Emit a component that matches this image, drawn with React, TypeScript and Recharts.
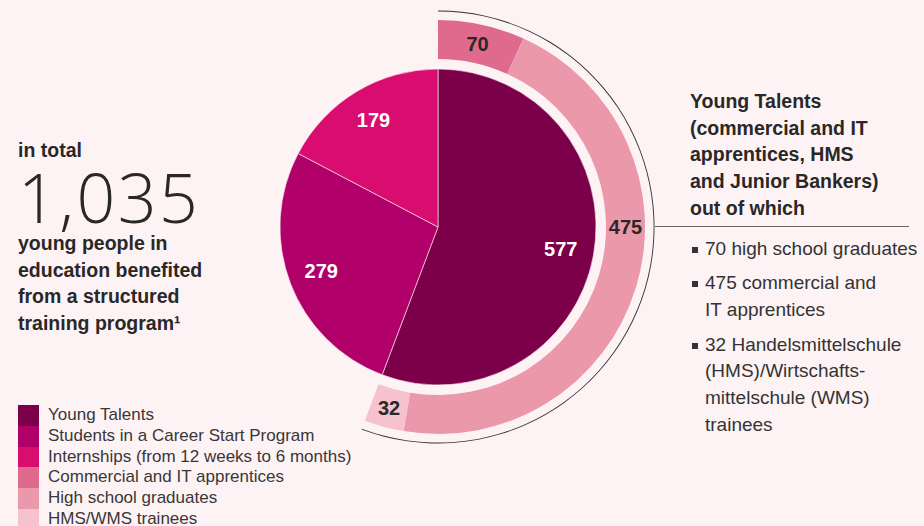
import { PieChart, Pie, Cell, Legend } from "recharts";

// inner pie: all young people in education
const programNames = [
  "Young Talents",
  "Students in a Career Start Program",
  "Internships (from 12 weeks to 6 months)",
];
const programCounts = [577, 279, 179];

// outer ring: breakdown of the Young Talents slice
const talentNames = [
  "High school graduates",
  "Commercial and IT apprentices",
  "HMS/WMS trainees",
];
const talentCounts = [70, 475, 32];

const legendLabels = [
  "Young Talents",
  "Students in a Career Start Program",
  "Internships (from 12 weeks to 6 months)",
  "Commercial and IT apprentices",
  "High school graduates",
  "HMS/WMS trainees",
];

const headerLines = [
  "Young Talents",
  "(commercial and IT",
  "apprentices, HMS",
  "and Junior Bankers)",
  "out of which",
];
const bulletLines = [
  ["70 high school graduates"],
  ["475 commercial and", "IT apprentices"],
  ["32 Handelsmittelschule", "(HMS)/Wirtschafts-", "mittelschule (WMS)", "trainees"],
];
const leftLines = [
  "young people in",
  "education benefited",
  "from a structured",
  "training program\u00b9",
];

const BG = "#fdf3f5";
const INK = "#2a2727";
const programColors = ["#7b0049", "#b2006b", "#d80d6f"];
const ringColors = ["#e06a8e", "#eb98ab", "#f6c2cd"];
const legendColors = ["#7b0049", "#b2006b", "#d80d6f", "#e06a8e", "#eb98ab", "#f6c2cd"];

const programData = programNames.map((name, i) => ({ name, value: programCounts[i] }));
const talentData = talentNames.map((name, i) => ({ name, value: talentCounts[i] }));
const total = programCounts.reduce((a, b) => a + b, 0);

const RAD = Math.PI / 180;

function innerLabel(p: any) {
  const r = p.outerRadius * 0.79;
  const x = p.cx + r * Math.cos(-p.midAngle * RAD);
  const y = p.cy + r * Math.sin(-p.midAngle * RAD);
  return (
    <text x={x} y={y} fill="#fff" textAnchor="middle" dominantBaseline="central"
      fontSize={20} fontWeight={700} fontFamily="Liberation Sans, Arial, sans-serif">
      {p.value}
    </text>
  );
}

// ring labels sit mid-band; a segment crossing 3 o'clock is labelled there
function ringLabel(p: any) {
  const lo = Math.min(p.startAngle, p.endAngle);
  const hi = Math.max(p.startAngle, p.endAngle);
  const angle = lo <= 0 && hi >= 0 ? 0 : p.midAngle;
  const r = (p.innerRadius + p.outerRadius) / 2;
  const x = p.cx + r * Math.cos(-angle * RAD);
  const y = p.cy + r * Math.sin(-angle * RAD);
  return (
    <text x={x} y={y} fill={INK} textAnchor="middle" dominantBaseline="central"
      fontSize={20} fontWeight={700} fontFamily="Liberation Sans, Arial, sans-serif">
      {p.value}
    </text>
  );
}

function LegendBox() {
  return (
    <div>
      {legendLabels.map((label, i) => (
        <div key={label} style={{ display: "flex", alignItems: "center", height: 20.8 }}>
          <div style={{ width: 21, height: 20.8, background: legendColors[i], marginRight: 9 }} />
          <span style={{ fontSize: 17, lineHeight: "20.8px", color: "#3a3636", whiteSpace: "nowrap" }}>{label}</span>
        </div>
      ))}
    </div>
  );
}

export default function App() {
  return (
    <div
      style={{
        position: "absolute",
        left: 0,
        top: 0,
        width: 924,
        height: 526,
        overflow: "hidden",
        background: BG,
        fontFamily: "Liberation Sans, Arial, sans-serif",
        color: INK,
      }}
    >
      <div style={{ position: "absolute", left: 0, top: 0 }}>
        <PieChart width={924} height={526} margin={{ top: 0, right: 0, bottom: 0, left: 0 }}>
          <Pie
            data={programData}
            dataKey="value"
            cx={438}
            cy={227}
            outerRadius={158}
            startAngle={90}
            endAngle={-270}
            stroke={BG}
            strokeWidth={0.6}
            label={innerLabel}
            labelLine={false}
            isAnimationActive={false}
          >
            {programData.map((d, i) => (
              <Cell key={d.name} fill={programColors[i]} />
            ))}
          </Pie>
          <Pie
            data={talentData}
            dataKey="value"
            cx={438}
            cy={227}
            innerRadius={168}
            outerRadius={207}
            startAngle={90}
            endAngle={90 - (360 * programCounts[0]) / total}
            stroke="none"
            label={ringLabel}
            labelLine={false}
            isAnimationActive={false}
          >
            {talentData.map((d, i) => (
              <Cell key={d.name} fill={ringColors[i]} />
            ))}
          </Pie>
          {/* thin bracket arc around the Young Talents share */}
          <Pie
            data={programData}
            dataKey="value"
            cx={438}
            cy={227}
            innerRadius={215.6}
            outerRadius={216.5}
            startAngle={90}
            endAngle={-270}
            stroke="none"
            isAnimationActive={false}
          >
            {programData.map((d, i) => (
              <Cell key={d.name} fill={i === 0 ? "#333" : "none"} />
            ))}
          </Pie>
          <Legend content={() => <LegendBox />} wrapperStyle={{ left: 18, top: 405, width: 360 }} />
        </PieChart>
      </div>

      <div style={{ position: "absolute", left: 18, top: 137, fontSize: 19.5, fontWeight: 700, lineHeight: "26.7px" }}>
        in total
      </div>
      <div
        style={{
          position: "absolute",
          left: 18,
          top: 171,
          fontSize: 68,
          fontWeight: 300,
          lineHeight: "52px",
          letterSpacing: 2.5,
          fontFamily: "Open Sans, Liberation Sans, sans-serif",
        }}
      >
        {total.toLocaleString("en-US")}
      </div>
      <div style={{ position: "absolute", left: 18, top: 230, fontSize: 19.5, fontWeight: 700, lineHeight: "26.7px" }}>
        {leftLines.map((l) => (
          <div key={l}>{l}</div>
        ))}
      </div>

      <div style={{ position: "absolute", left: 690, top: 88, fontSize: 19.5, fontWeight: 700, lineHeight: "26.7px" }}>
        {headerLines.map((l) => (
          <div key={l}>{l}</div>
        ))}
      </div>
      <div style={{ position: "absolute", left: 655, top: 226, width: 254, borderTop: "1px solid #6a6466" }} />
      <div style={{ position: "absolute", left: 690, top: 235.5, fontSize: 19, lineHeight: "26.7px", color: "#333" }}>
        {bulletLines.map((lines, i) => (
          <div key={i} style={{ position: "relative", paddingLeft: 15, marginBottom: 8 }}>
            <div style={{ position: "absolute", left: 2, top: 11, width: 6, height: 6, background: "#333" }} />
            {lines.map((l) => (
              <div key={l}>{l}</div>
            ))}
          </div>
        ))}
      </div>
    </div>
  );
}
